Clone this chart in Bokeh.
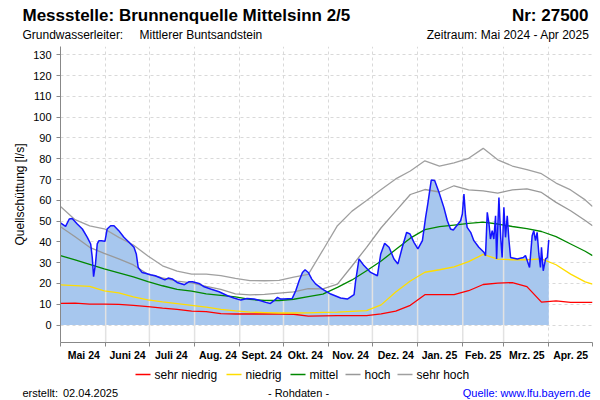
import numpy as np
from bokeh.plotting import figure
from bokeh.layouts import column
from bokeh.models import Range1d, FixedTicker
from bokeh.core.properties import value
from bokeh.embed import file_html
from bokeh.resources import INLINE

FONT = "Liberation Sans"

# ---------------- data ----------------
month_starts = [0, 31, 61, 92, 123, 153, 184, 214, 245, 276, 304, 335, 365]
month_labels = ["Mai 24", "Juni 24", "Juli 24", "Aug. 24", "Sept. 24", "Okt. 24",
                "Nov. 24", "Dez. 24", "Jan. 25", "Feb. 25", "Mrz. 25", "Apr. 25"]
y_ticks = list(range(0, 131, 10))

# measured discharge (days since 01.05.2024)
mess_days = [0, 3.5, 6, 8, 11.5, 15, 18.4, 20.7, 21.8, 22.7, 24, 25.2, 26.4, 28, 30.5,
             32, 34.4, 36.7, 40, 43.5, 47, 50.4, 52, 53.3, 56, 58.8, 61.8, 65, 68.7,
             71.6, 73.9, 76.6, 80, 85, 88, 90.6, 95, 98.6, 103, 108.8, 114.6, 119,
             123.7, 128, 132.8, 137.4, 140.8, 144, 146.5, 148.9, 151, 153, 159, 161.4,
             163.7, 166, 167.8, 170, 172.4, 175, 179.7, 185.4, 192.2, 196.8, 201.4,
             202.5, 204.8, 208.2, 212.8, 217.4, 219.7, 222.4, 225.4, 228.8, 231.5,
             234.5, 237.5, 239.8, 242.5, 245.2, 248.3, 250.5, 252, 254.4, 256.7, 259.6,
             263, 265.4, 267.6, 269.5, 271.8, 274.5, 275.7, 276.8, 277.9, 279, 281.4,
             283.6, 287, 290.5, 291.6, 292.8, 294, 295, 296.2, 297.3, 298.5, 299.2,
             300.8, 302, 303, 304.2, 305.3, 306.5, 307.6, 308.8, 313.4, 317.5, 319,
             320.2, 321.8, 323.6, 324.7, 325.9, 327, 328.2, 329.3, 330, 331.2, 332.8,
             334, 335]
mess_values = [49.1, 47.5, 51.0, 51.3, 48.6, 46.2, 42.2, 39.0, 32.5, 23.3, 29.4, 39.0, 40.6,
               40.5, 40.3, 46.2, 47.8, 47.8, 45.4, 42.2, 39.8, 37.4, 34.2, 27.7, 25.3, 24.8,
               24.2, 23.7, 22.6, 21.7, 22.6, 22.2, 20.5, 19.4, 20.8, 20.8, 20.0, 18.4, 17.3,
               16.0, 14.1, 13.0, 12.0, 12.8, 12.5, 11.7, 10.9, 10.4, 11.7, 13.3, 12.5, 12.5,
               12.8, 16.5, 21.3, 25.3, 26.6, 25.3, 22.1, 19.8, 17.3, 14.9, 13.0, 12.5, 14.6,
               21.3, 31.8, 28.6, 25.3, 23.7, 34.2, 39.3, 37.4, 31.8, 29.4, 37.4, 44.6, 43.8,
               39.8, 36.6, 40.6, 51.8, 58.3, 69.8, 69.5, 64.0, 56.6, 50.2, 46.2, 45.7, 47.8,
               50.2, 53.4, 63.0, 52.6, 47.0, 44.6, 40.6, 37.4, 35.0, 33.4, 54.2, 48.6, 41.4,
               45.4, 41.4, 52.6, 31.8, 61.4, 42.2, 32.5, 56.6, 42.2, 52.6, 41.4, 32.5, 31.8,
               32.5, 33.4, 31.0, 27.7, 43.0, 45.4, 40.6, 44.6, 34.2, 27.7, 37.4, 26.1, 31.8,
               32.5, 40.9]

# long-term reference curves
ref_days = [0, 10, 20, 30, 40, 50, 60, 70, 80, 90, 100, 110, 120, 130, 140, 150, 160,
            170, 180, 190, 200, 210, 220, 230, 240, 250, 260, 270, 280, 290, 300, 310,
            320, 330, 340, 350, 360, 365]
sehr_niedrig = [10.4, 10.5, 10.1, 10.1, 9.9, 9.5, 8.9, 8.1, 7.5, 6.7, 6.5, 5.5, 5.3, 5.3,
                5.3, 5.3, 5.2, 4.3, 4.4, 4.5, 4.5, 4.5, 5.4, 6.7, 9.5, 14.6, 14.6, 14.6,
                16.5, 19.5, 20.2, 20.4, 18.5, 11.0, 11.6, 10.9, 10.9, 10.9]
niedrig = [19.3, 19.0, 18.6, 16.4, 15.5, 13.5, 12.1, 11.1, 10.3, 9.5, 8.6, 7.5, 6.8, 6.2,
           6.0, 5.8, 5.8, 5.9, 6.1, 6.2, 6.6, 6.9, 9.7, 15.9, 21.2, 25.4, 26.6, 28.0,
           30.5, 34.0, 31.7, 31.4, 31.4, 31.8, 29.0, 24.5, 20.8, 19.7]
mittel = [33.4, 31.3, 29.2, 27.0, 25.1, 23.2, 20.9, 18.9, 17.2, 16.3, 15.0, 14.3, 13.5,
          12.3, 11.8, 11.8, 12.4, 13.7, 14.9, 18.1, 21.7, 26.1, 30.8, 36.3, 41.8, 45.9,
          47.3, 48.1, 48.9, 49.5, 48.6, 47.4, 46.4, 45.0, 42.5, 39.0, 35.5, 33.4]
hoch = [47.3, 42.5, 37.4, 34.5, 31.8, 28.9, 24.4, 22.7, 21.1, 20.3, 18.6, 17.2, 15.0, 14.5,
        14.8, 15.4, 16.0, 17.5, 17.4, 19.7, 28.4, 37.4, 46.8, 54.8, 62.8, 65.2, 64.0, 67.0,
        65.0, 64.5, 63.5, 65.0, 65.5, 63.8, 59.0, 55.0, 50.3, 47.8]
sehr_hoch = [57.0, 50.7, 47.7, 46.3, 42.2, 38.5, 33.2, 28.5, 25.9, 24.5, 24.5, 23.8, 22.5,
             21.4, 21.3, 21.5, 23.0, 24.4, 36.0, 47.8, 54.8, 59.9, 65.2, 70.3, 74.1, 79.0,
             76.5, 78.0, 80.2, 85.0, 79.5, 76.5, 74.8, 72.8, 68.3, 65.0, 60.2, 57.0]

legend_labels = ["sehr niedrig", "niedrig", "mittel", "hoch", "sehr hoch"]
legend_colors = ["#ff0000", "#ffdd00", "#008800", "#999999", "#a0a0a0"]
ref_series = [sehr_niedrig, niedrig, mittel, hoch, sehr_hoch]

W = 600


def blank(height, y_top, y_bottom):
    f = figure(width=W, height=height, x_range=Range1d(0, W), y_range=Range1d(y_bottom, y_top),
               x_axis_type=None, y_axis_type=None, output_backend="svg",
               toolbar_location=None, min_border=0)
    f.outline_line_color = None
    f.frame_align = False
    return f


def txt(f, x, y, s, align="left", size="11px", style="normal", color="black"):
    f.text(x=[x], y=[y], text=[s], text_align=align, text_baseline="middle",
           text_font=value(FONT), text_font_size=value(size), text_font_style=style,
           text_color=color)


# ---------------- header ----------------
head = blank(46, 0, 46)
txt(head, 22, 15, "Messstelle: Brunnenquelle Mittelsinn 2/5", size="17px", style="bold")
txt(head, 588, 15, "Nr: 27500", align="right", size="17px", style="bold")
txt(head, 22, 34, "Grundwasserleiter:", size="12px")
txt(head, 139, 34, "Mittlerer Buntsandstein", size="12px")
txt(head, 589, 34, "Zeitraum: Mai 2024 - Apr 2025", align="right", size="12px")

# ---------------- main chart ----------------
Y0, Y1 = -8.4, 134
p = figure(width=W, height=320, x_range=Range1d(0, 365), y_range=Range1d(Y0, Y1),
           output_backend="svg", toolbar_location=None,
           min_border_left=60, min_border_right=8, min_border_top=0, min_border_bottom=24)
p.outline_line_color = None
p.frame_align = False

mids = [int(round((month_starts[i] + month_starts[i + 1]) / 2)) for i in range(12)]
p.xaxis.ticker = FixedTicker(ticks=mids, minor_ticks=month_starts)
p.xaxis.major_label_overrides = {m: lab for m, lab in zip(mids, month_labels)}
p.xaxis.major_tick_line_color = None
p.xaxis.major_tick_out = 0
p.xaxis.major_tick_in = 0
p.xaxis.minor_tick_in = 0
p.xaxis.minor_tick_out = 4
p.xaxis.minor_tick_line_color = "#888888"
p.xaxis.axis_line_color = "#888888"
p.xaxis.major_label_text_font = FONT
p.xaxis.major_label_text_font_size = "10.5px"
p.xaxis.major_label_text_font_style = "bold"
p.xaxis.major_label_text_color = "black"
p.xaxis.major_label_standoff = 2

p.yaxis.ticker = FixedTicker(ticks=y_ticks)
p.yaxis.minor_tick_line_color = None
p.yaxis.major_tick_in = 0
p.yaxis.major_tick_out = 4
p.yaxis.major_tick_line_color = "#888888"
p.yaxis.axis_line_color = "#888888"
p.yaxis.major_label_text_font = FONT
p.yaxis.major_label_text_font_size = "11px"
p.yaxis.major_label_text_color = "black"
p.yaxis.major_label_standoff = 5
p.yaxis.axis_label = "Quellschüttung [l/s]"
p.yaxis.axis_label_text_font = FONT
p.yaxis.axis_label_text_font_size = "12px"
p.yaxis.axis_label_text_font_style = "normal"
p.yaxis.axis_label_text_color = "black"
p.yaxis.axis_label_standoff = 3

p.xgrid.ticker = FixedTicker(ticks=month_starts[1:])
p.ygrid.ticker = FixedTicker(ticks=y_ticks)
for g in (p.xgrid, p.ygrid):
    g.grid_line_color = "#d9d9d9"
    g.grid_line_dash = "3 3"
    g.grid_line_width = 1

# measured area
p.varea(x=mess_days, y1=0, y2=mess_values, fill_color="#a7c7ee")

# month separators inside the measured area
seg_x = [d for d in month_starts[1:] if d < mess_days[-1]]
seg_top = list(np.interp(seg_x, mess_days, mess_values))
p.segment(x0=seg_x, x1=seg_x, y0=[Y0] * len(seg_x), y1=seg_top,
          line_color="#e2e2e2", line_width=1.5)

for series, col in zip(ref_series, legend_colors):
    p.line(ref_days, series, line_color=col, line_width=1.3)
p.line(mess_days, mess_values, line_color="#1414ff", line_width=1.5)

# ---------------- footer (legend + notes) ----------------
foot = blank(34, 366, 400)
leg_x = [135, 226, 290, 345, 397]
leg_y = 374
foot.segment(x0=leg_x, x1=[x + 15 for x in leg_x], y0=[leg_y] * 5, y1=[leg_y] * 5,
             line_color=legend_colors, line_width=1.5)
foot.text(x=[x + 19 for x in leg_x], y=[leg_y] * 5, text=legend_labels,
          text_align="left", text_baseline="middle", text_font=value(FONT),
          text_font_size=value("12px"), text_color="black")
txt(foot, 22, 392, "erstellt:")
txt(foot, 62.5, 392, "02.04.2025")
txt(foot, 298, 392, "- Rohdaten -", align="center")
txt(foot, 590, 392, "Quelle: www.lfu.bayern.de", align="right", color="#0000ff")

layout = column(head, p, foot, spacing=0)
open("out.html", "w").write(file_html(layout, INLINE))
